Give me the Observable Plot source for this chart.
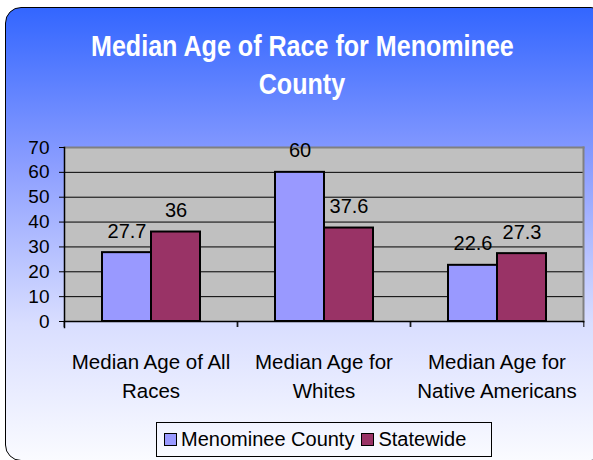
<!DOCTYPE html>
<html>
<head>
<meta charset="utf-8">
<script src="https://cdn.jsdelivr.net/npm/d3@7"></script>
<script src="https://cdn.jsdelivr.net/npm/@observablehq/plot@0.6"></script>
<style>
  html, body { margin: 0; padding: 0; background: #fff; }
  #chart { position: relative; width: 593px; height: 460px; overflow: hidden; font-family: "Liberation Sans", Arial, sans-serif; }
  #bg { position: absolute; left: 5px; top: 7px; width: 600px; height: 452px; border: 1.5px solid #000; border-radius: 16px;
        background: linear-gradient(to bottom, #3366FF 0%, #8C9EFF 35%, #D9DEFF 70%, #FAFBFF 100%); }
  #title { position: absolute; left: 0; width: 604px; top: 27px; text-align: center; color: #fff; font-weight: bold;
           font-size: 29px; line-height: 38px; }
  #title span { display: inline-block; transform: scaleX(0.865); transform-origin: center; white-space: nowrap; }
  #plot { position: absolute; left: 0; top: 110px; }
  #legend { position: absolute; left: 156px; top: 422px; width: 334px; height: 33px; border: 1px solid #000;
            display: flex; align-items: center; font-size: 20px; color: #000; }
  .item { display: flex; align-items: center; margin-left: 7px; }
  .sw { width: 11px; height: 11px; border: 1.5px solid #000; margin-right: 4px; }
</style>
</head>
<body>
<div id="chart">
  <div id="bg"></div>
  <div id="title"><span>Median Age of Race for Menominee</span><br><span>County</span></div>
  <div id="plot"></div>
  <div id="legend"></div>
</div>
<script>
const titleText = "Median Age of Race for Menominee County";
const categories = ["Median Age of All Races", "Median Age for Whites", "Median Age for Native Americans"];
const categoryLabels = ["Median Age of All\nRaces", "Median Age for\nWhites", "Median Age for\nNative Americans"];
const series = ["Menominee County", "Statewide"];
const menominee = [27.7, 60, 22.6];
const statewide = [36, 37.6, 27.3];
const yTicks = [0, 10, 20, 30, 40, 50, 60, 70];
const colors = ["#9999FF", "#993366"];

const data = categories.flatMap((c, i) => [
  {category: c, series: series[0], value: menominee[i]},
  {category: c, series: series[1], value: statewide[i]}
]);

const W = 593, H = 291, mL = 63, mR = 9, mT = 37, mB = 80;
const step = (W - mL - mR) / categories.length;
const labelOf = new Map(categories.map((c, i) => [c, categoryLabels[i]]));

const chart = Plot.plot({
  width: W, height: H,
  marginLeft: mL, marginRight: mR, marginTop: mT, marginBottom: mB,
  style: {background: "transparent", fontFamily: "'Liberation Sans', Arial, sans-serif", overflow: "visible", color: "#000"},
  fx: {domain: categories, paddingInner: 0, paddingOuter: 0, label: null},
  x: {domain: series, paddingInner: 0, paddingOuter: 0.75, axis: null},
  y: {domain: [0, 70], label: null},
  color: {domain: series, range: colors},
  marks: [
    Plot.frame({fill: "#C0C0C0", stroke: null, facet: "super"}),
    Plot.ruleY(yTicks.filter(t => t > 0 && t < 70), {stroke: "#000", strokeWidth: 1}),
    Plot.frame({anchor: "top", stroke: "#808080", strokeWidth: 2, facet: "super"}),
    Plot.frame({anchor: "right", stroke: "#808080", strokeWidth: 2, facet: "super"}),
    Plot.barY(data, {fx: "category", x: "series", y: "value", fill: "series", stroke: "#000", strokeWidth: 2}),
    Plot.text(data, {fx: "category", x: "series", y: "value", text: d => String(d.value), lineAnchor: "bottom", dy: -15, fontSize: 20, fill: "#000"}),
    Plot.frame({anchor: "bottom", stroke: "#000", strokeWidth: 1.5, facet: "super"}),
    Plot.frame({anchor: "left", stroke: "#000", strokeWidth: 1.5, facet: "super", insetBottom: -6}),
    Plot.axisY({ticks: yTicks, tickSize: 5, tickPadding: 10, fontSize: 19, label: null, stroke: "#000", fill: "#000"}),
    Plot.axisFx({anchor: "bottom", tickSize: 6, dx: -step / 2, text: null, label: null, stroke: "#000"}),
    Plot.axisFx([categories[categories.length - 1]], {anchor: "bottom", tickSize: 6, dx: step / 2, text: null, label: null, stroke: "#000"}),
    Plot.axisFx({anchor: "bottom", tickSize: 0, tickPadding: 27, fontSize: 20.5, lineHeight: 1.4, tickFormat: c => labelOf.get(c), label: null, fill: "#000"})
  ]
});
document.getElementById("plot").appendChild(chart);

const legend = document.getElementById("legend");
series.forEach((s, i) => {
  const item = document.createElement("div");
  item.className = "item";
  const sw = document.createElement("div");
  sw.className = "sw";
  sw.style.background = colors[i];
  const t = document.createElement("span");
  t.textContent = s;
  item.appendChild(sw);
  item.appendChild(t);
  legend.appendChild(item);
});
</script>
</body>
</html>
